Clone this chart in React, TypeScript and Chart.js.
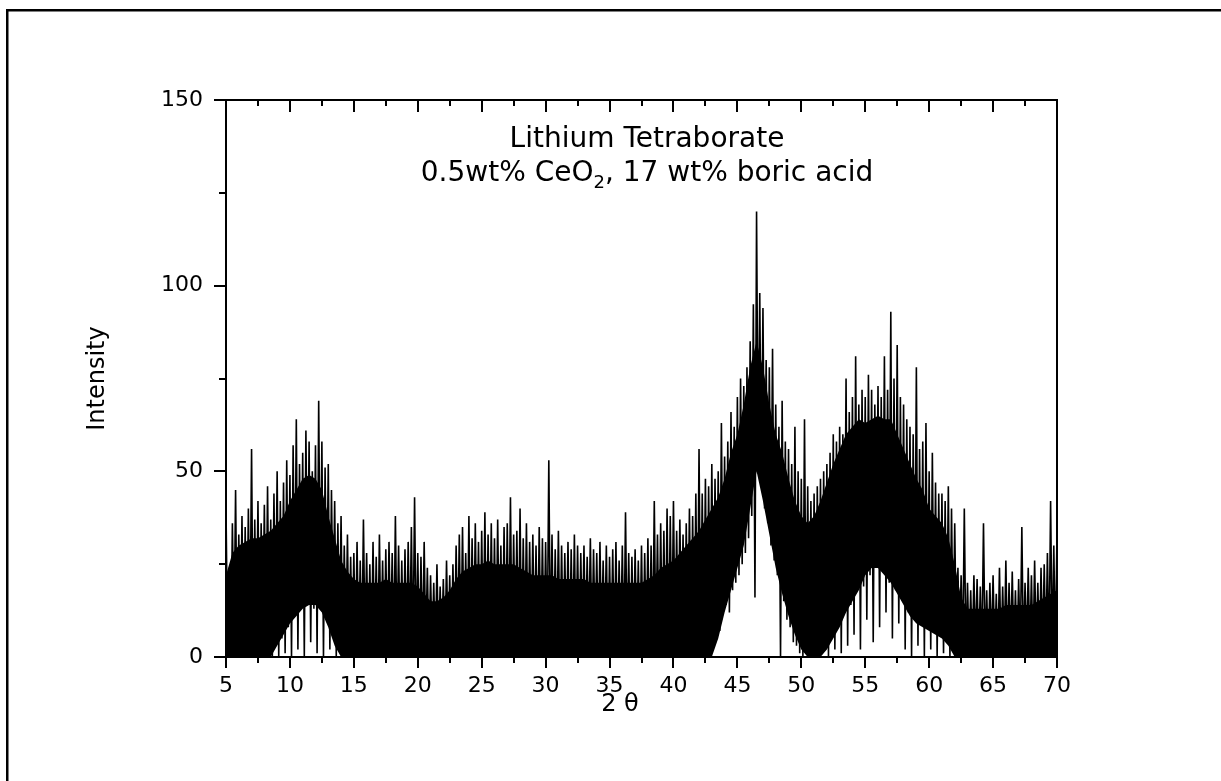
import React, { useEffect, useRef } from 'react';
import { Chart, registerables } from 'chart.js';

Chart.register(...registerables);

// ---- Data ----
// Noisy trace sampled every 0.25° of 2θ from 5° to 70°:
// the top and the bottom reached by the trace around each sample.
const twoThetaStart = 5;
const twoThetaStep = 0.25;

const upperIntensity = [
  40, 24, 36, 45, // 5
  33, 38, 35, 40, // 6
  56, 37, 42, 36, // 7
  41, 46, 37, 44, // 8
  50, 42, 47, 53, // 9
  49, 57, 64, 52, // 10
  55, 61, 58, 50, // 11
  57, 69, 58, 51, // 12
  52, 45, 42, 36, // 13
  38, 30, 33, 27, // 14
  28, 31, 26, 37, // 15
  28, 25, 31, 27, // 16
  33, 26, 29, 31, // 17
  28, 38, 30, 26, // 18
  29, 31, 35, 43, // 19
  28, 27, 31, 24, // 20
  22, 20, 25, 19, // 21
  21, 26, 22, 25, // 22
  30, 33, 35, 28, // 23
  38, 32, 36, 31, // 24
  34, 39, 33, 36, // 25
  32, 37, 30, 35, // 26
  36, 43, 33, 34, // 27
  40, 32, 36, 31, // 28
  33, 30, 35, 32, // 29
  31, 53, 33, 29, // 30
  34, 30, 28, 31, // 31
  29, 33, 30, 28, // 32
  30, 27, 32, 29, // 33
  28, 31, 26, 30, // 34
  27, 29, 31, 26, // 35
  30, 39, 28, 27, // 36
  29, 26, 30, 28, // 37
  32, 30, 42, 33, // 38
  36, 34, 40, 38, // 39
  42, 34, 37, 33, // 40
  36, 40, 38, 44, // 41
  56, 44, 48, 46, // 42
  52, 48, 50, 63, // 43
  54, 58, 66, 62, // 44
  70, 75, 73, 78, // 45
  85, 95, 120, 98, // 46
  94, 80, 78, 83, // 47
  68, 62, 69, 58, // 48
  56, 52, 62, 50, // 49
  48, 64, 46, 42, // 50
  44, 46, 48, 50, // 51
  52, 55, 60, 58, // 52
  62, 60, 75, 66, // 53
  70, 81, 68, 72, // 54
  70, 76, 72, 68, // 55
  73, 70, 81, 72, // 56
  93, 75, 84, 70, // 57
  68, 64, 62, 60, // 58
  78, 56, 58, 63, // 59
  50, 55, 47, 44, // 60
  44, 42, 46, 40, // 61
  36, 24, 22, 40, // 62
  20, 18, 22, 21, // 63
  19, 36, 18, 20, // 64
  22, 17, 24, 19, // 65
  26, 20, 23, 18, // 66
  21, 35, 20, 24, // 67
  22, 26, 20, 24, // 68
  25, 28, 42, 30, // 69
  34,             // 70
];

const lowerIntensity = [
  2, 0, 4, 1, // 5
  3, 0, 2, 5, // 6
  0, 3, 1, 6, // 7
  2, 4, 0, 7, // 8
  0, 5, 1, 8, // 9
  0, 12, 2, 14, // 10
  0, 16, 4, 13, // 11
  1, 15, 0, 12, // 12
  2, 10, 0, 4, // 13
  1, 3, 0, 2, // 14
  0, 2, 1, 3, // 15
  1, 0, 2, 0, // 16
  2, 1, 0, 3, // 17
  0, 2, 1, 0, // 18
  1, 3, 0, 2, // 19
  0, 1, 2, 0, // 20
  2, 0, 1, 3, // 21
  0, 2, 0, 1, // 22
  3, 0, 2, 1, // 23
  0, 1, 3, 0, // 24
  2, 0, 1, 2, // 25
  0, 3, 0, 1, // 26
  1, 0, 2, 0, // 27
  0, 2, 1, 3, // 28
  2, 0, 0, 1, // 29
  1, 2, 0, 3, // 30
  0, 1, 2, 0, // 31
  2, 0, 1, 4, // 32
  3, 5, 2, 4, // 33
  1, 4, 3, 0, // 34
  2, 0, 1, 3, // 35
  0, 2, 0, 1, // 36
  3, 1, 0, 2, // 37
  0, 2, 3, 1, // 38
  2, 0, 1, 4, // 39
  5, 3, 6, 2, // 40
  4, 1, 3, 2, // 41
  3, 6, 2, 8, // 42
  5, 10, 7, 12, // 43
  14, 12, 18, 20, // 44
  22, 25, 28, 32, // 45
  38, 16, 50, 46, // 46
  40, 36, 30, 26, // 47
  22, 0, 15, 10, // 48
  8, 4, 3, 1, // 49
  0, 2, 0, 1, // 50
  0, 3, 2, 4, // 51
  0, 6, 2, 8, // 52
  1, 12, 3, 14, // 53
  6, 18, 2, 19, // 54
  10, 22, 4, 24, // 55
  8, 24, 12, 20, // 56
  5, 18, 9, 16, // 57
  2, 12, 0, 10, // 58
  3, 9, 0, 8, // 59
  2, 7, 0, 6, // 60
  1, 5, 0, 3, // 61
  3, 1, 0, 0, // 62
  1, 0, 2, 0, // 63
  0, 1, 0, 2, // 64
  1, 0, 0, 1, // 65
  0, 2, 1, 0, // 66
  1, 0, 2, 1, // 67
  0, 1, 0, 2, // 68
  1, 0, 1, 0, // 69
  0,          // 70
];

// Dense (solid black) core of the trace, read every 0.5° of 2θ from 5° to 70°.
const coreStep = 0.5;
const coreTop = [
  22, 28, 30, 31, 32, 32, 33, 34, 36, 38, // 5 - 9.5
  42, 45, 48, 49, 48, 45, 38, 32, 26, 23, // 10 - 14.5
  21, 20, 20, 20, 20, 21, 20, 20, 20, 20, // 15 - 19.5
  19, 17, 15, 15, 16, 18, 21, 23, 24, 25, // 20 - 24.5
  25, 26, 25, 25, 25, 25, 24, 23, 22, 22, // 25 - 29.5
  22, 22, 21, 21, 21, 21, 21, 20, 20, 20, // 30 - 34.5
  20, 20, 20, 20, 20, 20, 21, 22, 24, 25, // 35 - 39.5
  26, 28, 30, 32, 34, 37, 40, 43, 48, 55, // 40 - 44.5
  60, 68, 78, 85, 78, 68, 60, 55, 48, 42, // 45 - 49.5
  38, 36, 38, 42, 47, 52, 56, 60, 62, 64, // 50 - 54.5
  63, 64, 65, 64, 64, 60, 56, 52, 48, 45, // 55 - 59.5
  40, 38, 36, 32, 25, 16, 13, 13, 13, 13, // 60 - 64.5
  13, 13, 14, 14, 14, 14, 14, 15, 16, 17, // 65 - 69.5
  18,                                     // 70
];
const coreBottom = [
  0, 0, 0, 0, 0, 0, 0, 0, 3, 6,          // 5 - 9.5
  9, 11, 13, 14, 14, 12, 8, 3, 0, 0,     // 10 - 14.5
  0, 0, 0, 0, 0, 0, 0, 0, 0, 0,          // 15 - 19.5
  0, 0, 0, 0, 0, 0, 0, 0, 0, 0,          // 20 - 24.5
  0, 0, 0, 0, 0, 0, 0, 0, 0, 0,          // 25 - 29.5
  0, 0, 0, 0, 0, 0, 0, 0, 0, 0,          // 30 - 34.5
  0, 0, 0, 0, 0, 0, 0, 0, 0, 0,          // 35 - 39.5
  0, 0, 0, 0, 0, 0, 0, 5, 12, 18,        // 40 - 44.5
  24, 30, 40, 50, 42, 33, 24, 17, 11, 6, // 45 - 49.5
  2, 0, 0, 0, 2, 5, 8, 12, 15, 18,       // 50 - 54.5
  22, 24, 24, 22, 20, 17, 14, 11, 9, 8,  // 55 - 59.5
  7, 6, 5, 3, 0, 0, 0, 0, 0, 0,          // 60 - 64.5
  0, 0, 0, 0, 0, 0, 0, 0, 0, 0,          // 65 - 69.5
  0,                                     // 70
];

const xMajorTicks = [5, 10, 15, 20, 25, 30, 35, 40, 45, 50, 55, 60, 65, 70];
const xMinorTicks = [7.5, 12.5, 17.5, 22.5, 27.5, 32.5, 37.5, 42.5, 47.5, 52.5, 57.5, 62.5, 67.5];
const yMajorTicks = [0, 50, 100, 150];
const yMinorTicks = [25, 75, 125];

const titleLine1 = 'Lithium Tetraborate';
const titleLine2Parts = ['0.5wt% CeO', '2', ', 17 wt% boric acid'];
const xAxisTitle = '2 θ';
const yAxisTitle = 'Intensity';

const FONT = '"DejaVu Sans", "Liberation Sans", Arial, sans-serif';

const decorPlugin = {
  id: 'decor',
  afterDraw(chart: any) {
    const { ctx, chartArea, scales } = chart;
    const { left, right, top, bottom } = chartArea;
    const xs = scales.x;
    const ys = scales.y;
    ctx.save();
    ctx.strokeStyle = '#000';
    ctx.lineCap = 'butt';

    // outer figure frame
    ctx.lineWidth = 2.5;
    ctx.beginPath();
    ctx.moveTo(7.25, chart.height);
    ctx.lineTo(7.25, 10.25);
    ctx.lineTo(chart.width, 10.25);
    ctx.stroke();

    // plot frame
    ctx.lineWidth = 2;
    ctx.strokeRect(left, top, right - left, bottom - top);

    const seg = (x1: number, y1: number, x2: number, y2: number) => {
      ctx.beginPath();
      ctx.moveTo(x1, y1);
      ctx.lineTo(x2, y2);
      ctx.stroke();
    };

    // bottom ticks (outward) and top ticks (inward)
    for (const v of xMajorTicks) {
      const px = Math.round(xs.getPixelForValue(v));
      seg(px, bottom, px, bottom + 11);
      seg(px, top, px, top + 12);
    }
    for (const v of xMinorTicks) {
      const px = Math.round(xs.getPixelForValue(v));
      seg(px, bottom, px, bottom + 6);
      seg(px, top, px, top + 6);
    }
    // left ticks (outward)
    for (const v of yMajorTicks) {
      const py = Math.round(ys.getPixelForValue(v));
      seg(left - 12, py, left, py);
    }
    for (const v of yMinorTicks) {
      const py = Math.round(ys.getPixelForValue(v));
      seg(left - 7, py, left, py);
    }

    ctx.fillStyle = '#000';
    ctx.textBaseline = 'alphabetic';

    // x axis title
    ctx.font = `24px ${FONT}`;
    ctx.textAlign = 'center';
    ctx.fillText(xAxisTitle, 620, 711);

    // annotation text inside the plot
    const cx = 647;
    ctx.font = `28px ${FONT}`;
    ctx.textAlign = 'center';
    ctx.fillText(titleLine1, cx, 147);

    ctx.textAlign = 'left';
    const bigFont = `28px ${FONT}`;
    const smallFont = `18px ${FONT}`;
    ctx.font = bigFont;
    const w0 = ctx.measureText(titleLine2Parts[0]).width;
    const w2 = ctx.measureText(titleLine2Parts[2]).width;
    ctx.font = smallFont;
    const w1 = ctx.measureText(titleLine2Parts[1]).width;
    let sx = cx - (w0 + w1 + w2) / 2;
    ctx.font = bigFont;
    ctx.fillText(titleLine2Parts[0], sx, 181);
    sx += w0;
    ctx.font = smallFont;
    ctx.fillText(titleLine2Parts[1], sx, 188);
    sx += w1;
    ctx.font = bigFont;
    ctx.fillText(titleLine2Parts[2], sx, 181);

    ctx.restore();
  },
};

export default function App() {
  const canvasRef = useRef<HTMLCanvasElement | null>(null);

  useEffect(() => {
    const canvas = canvasRef.current;
    if (!canvas) return;

    const trace: { x: number; y: number }[] = [];
    for (let i = 0; i < upperIntensity.length; i++) {
      const x = twoThetaStart + i * twoThetaStep;
      trace.push({ x, y: upperIntensity[i] });
      if (i < upperIntensity.length - 1) {
        trace.push({ x: x + twoThetaStep / 2, y: lowerIntensity[i] });
      }
    }
    const coreLow = coreBottom.map((v, i) => ({ x: twoThetaStart + i * coreStep, y: v }));
    const coreHigh = coreTop.map((v, i) => ({ x: twoThetaStart + i * coreStep, y: v }));

    const chart = new Chart(canvas, {
      type: 'line',
      data: {
        datasets: [
          {
            label: 'core-bottom',
            data: coreLow,
            borderWidth: 0,
            borderColor: 'rgba(0,0,0,0)',
            pointRadius: 0,
            tension: 0,
            fill: false,
          },
          {
            label: 'core-top',
            data: coreHigh,
            borderWidth: 0,
            borderColor: 'rgba(0,0,0,0)',
            backgroundColor: '#000',
            pointRadius: 0,
            tension: 0,
            fill: '-1',
          },
          {
            label: 'XRD',
            data: trace,
            borderColor: '#000',
            borderWidth: 1.6,
            borderJoinStyle: 'bevel',
            pointRadius: 0,
            tension: 0,
            fill: false,
          },
        ],
      },
      options: {
        animation: false,
        responsive: false,
        maintainAspectRatio: false,
        events: [],
        layout: { padding: { left: 0, right: 164, top: 100, bottom: 0 } },
        plugins: {
          legend: { display: false },
          tooltip: { enabled: false },
          title: { display: false },
        },
        scales: {
          x: {
            type: 'linear',
            min: 5,
            max: 70,
            afterFit: (scale: any) => {
              scale.height = 124;
            },
            afterBuildTicks: (scale: any) => {
              scale.ticks = xMajorTicks.map((v) => ({ value: v }));
            },
            grid: { display: false, drawTicks: false },
            border: { display: false },
            ticks: {
              color: '#000',
              padding: 16,
              maxRotation: 0,
              autoSkip: false,
              font: { family: FONT, size: 22 },
            },
            title: { display: false, text: xAxisTitle },
          },
          y: {
            type: 'linear',
            min: 0,
            max: 150,
            afterFit: (scale: any) => {
              scale.width = 226;
            },
            afterBuildTicks: (scale: any) => {
              scale.ticks = yMajorTicks.map((v) => ({ value: v }));
            },
            grid: { display: false, drawTicks: false },
            border: { display: false },
            ticks: {
              color: '#000',
              padding: 23,
              font: { family: FONT, size: 22 },
            },
            title: {
              display: true,
              text: yAxisTitle,
              color: '#000',
              font: { family: FONT, size: 24 },
              padding: { top: 83, bottom: 0 },
            },
          },
        },
      },
      plugins: [decorPlugin],
    });

    return () => {
      chart.destroy();
    };
  }, []);

  return (
    <div style={{ position: 'absolute', left: 0, top: 0, width: 1221, height: 781, background: '#fff' }}>
      <canvas ref={canvasRef} width={1221} height={781} style={{ display: 'block' }} />
    </div>
  );
}
